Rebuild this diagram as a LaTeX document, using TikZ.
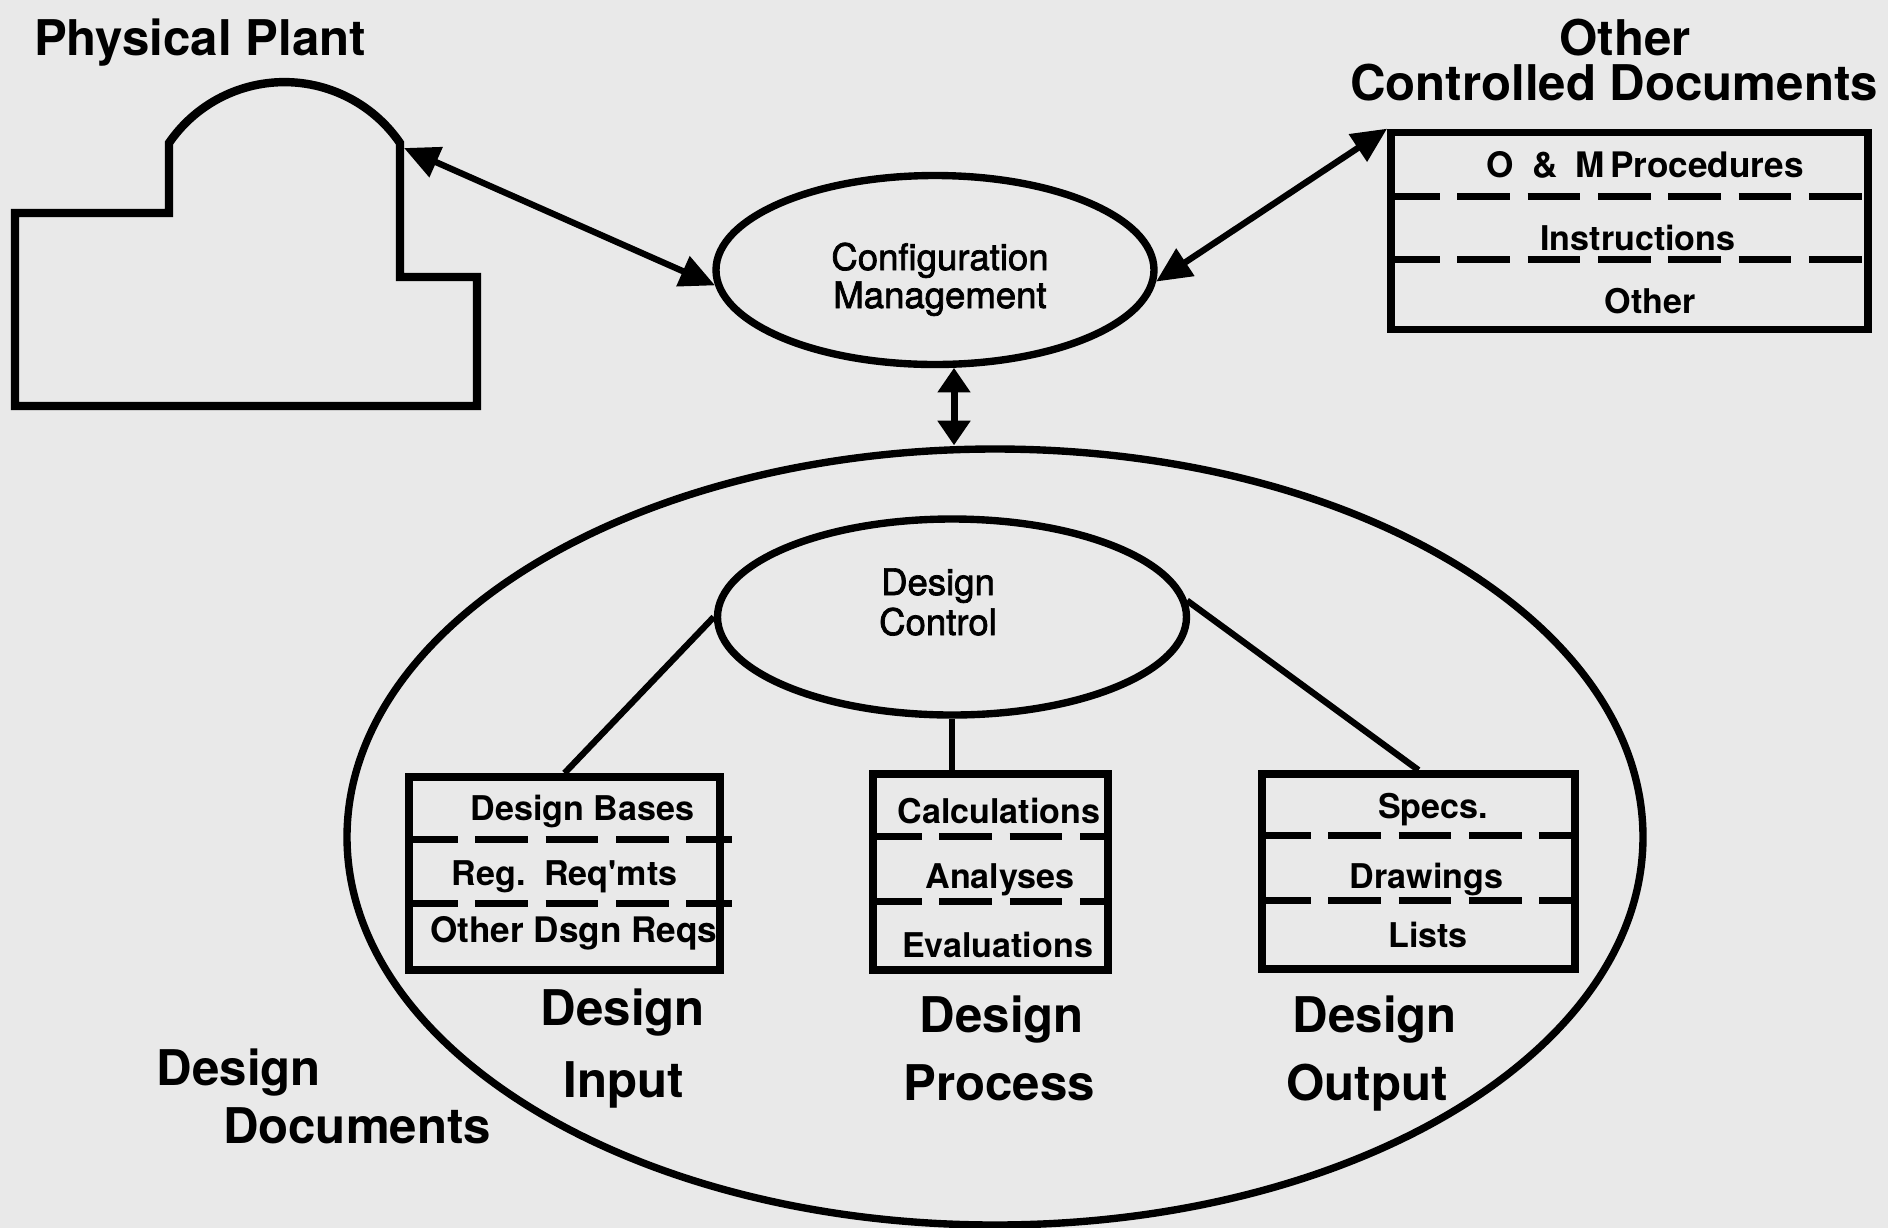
\documentclass[tikz,border=0pt]{standalone}
\usepackage{fontspec}
\setmainfont{TeX Gyre Heros}
\newfontfamily\medfont{TeX Gyre Heros}[FakeBold=2]
\newfontfamily\nolig{TeX Gyre Heros}[Ligatures=ResetAll]
\usetikzlibrary{shapes.geometric,arrows.meta,calc}
\definecolor{bg}{RGB}{233,233,233}
\begin{document}
\begin{tikzpicture}[x=0.1mm,y=-0.1mm,
  ell/.style={ellipse, draw, line width=2.1pt, inner sep=0pt},
  boxn/.style={rectangle, draw, line width=2.2pt, inner sep=0pt},
  sep/.style={line width=2pt, dash pattern=on 15pt off 5pt},
  conn/.style={line width=1.8pt},
  bigarr/.style={conn, {Triangle[length=10pt,width=9pt]}-{Triangle[length=10pt,width=9pt]}},
  title/.style={anchor=base, inner sep=0pt, font=\bfseries\fontsize{14}{16}\selectfont},
  boxtxt/.style={anchor=base, inner sep=0pt, font=\bfseries\fontsize{9.7}{11}\selectfont},
  elltxt/.style={anchor=base, inner sep=0pt, font=\medfont\fontsize{10.4}{12}\selectfont}
]
\fill[bg] (0,0) rectangle (1888,1228);
\useasboundingbox (0,0) rectangle (1888,1228);

% Physical plant
\draw[line width=2.4pt, line join=miter] (15,213) -- (15,406) -- (477,406) -- (477,277) -- (400,277) -- (400,143)
  arc[start angle=-34.4, end angle=-145.6, radius=140] -- (169,213) -- cycle;
\coordinate (plantR) at (404,148);
\node[title] (ppT) at (200,55) {Physical Plant};

% Configuration management
\node[ell, minimum width=43.8mm, minimum height=18.9mm] (cm) at (935,270) {};
\node[elltxt] (cmT1) at (940,270) {Configuration};
\node[elltxt] (cmT2) at (940,308) {Management};

% Other controlled documents
\node[title] (ocT1) at (1625,55) {Other};
\node[title] (ocT2) at (1614,100) {Controlled Documents};
\node[boxn, minimum width=47.7mm, minimum height=19.7mm] (ocd) at (1629.5,231) {};
\draw[sep] ($(ocd.north west)+(0,68)$) -- ($(ocd.north east)+(6,68)$);
\draw[sep] ($(ocd.north west)+(0,131)$) -- ($(ocd.north east)+(6,131)$);
\node[boxtxt, font=\bfseries\fontsize{10}{11}\selectfont] (ocA) at (1645,177) {O\hspace{0.55em}\&\hspace{0.5em}M\hspace{0.15em}Procedures};
\node[boxtxt] (ocB) at (1638,250) {Instructions};
\node[boxtxt] (ocC) at (1650,313) {Other};

% Design documents
\node[ell, minimum width=129.6mm, minimum height=77.6mm] (dd) at (995,837) {};
\node[ell, minimum width=46.9mm, minimum height=19.6mm] (dc) at (952,617) {};
\node[elltxt] (dcT1) at (938,595) {Design};
\node[elltxt] (dcT2) at (938,635) {Control};

% Boxes
\node[boxn, minimum width=31.1mm, minimum height=19.3mm] (din) at (564.5,873.5) {};
\draw[sep] ($(din.north west)+(0,66)$) -- ($(din.north east)+(8,66)$);
\draw[sep] ($(din.north west)+(0,130)$) -- ($(din.north east)+(8,130)$);
\node[boxtxt] (inA) at (582.5,820) {Design Bases};
\node[boxtxt] (inB) at (564.5,885) {Reg.\hspace{0.55em}Req{\nolig '}mts};
\node[boxtxt, font=\bfseries\fontsize{10}{11}\selectfont] (inC) at (574,942) {Other Dsgn Reqs};

\node[boxn, minimum width=23.5mm, minimum height=19.6mm] (dpr) at (990.5,872) {};
\draw[sep] ($(dpr.north west)+(0,66)$) -- ($(dpr.north east)+(0,66)$);
\draw[sep] ($(dpr.north west)+(0,131)$) -- ($(dpr.north east)+(0,131)$);
\node[boxtxt] (prA) at (999,823) {Calculations};
\node[boxtxt] (prB) at (1000,888) {Analyses};
\node[boxtxt] (prC) at (997.5,957) {Evaluations};

\node[boxn, minimum width=31.3mm, minimum height=19.5mm] (dout) at (1418.5,871.5) {};
\draw[sep] ($(dout.north west)+(0,65)$) -- ($(dout.north east)+(0,65)$);
\draw[sep] ($(dout.north west)+(0,130)$) -- ($(dout.north east)+(0,130)$);
\node[boxtxt] (ouA) at (1433,818) {Specs.};
\node[boxtxt] (ouB) at (1426.5,888) {Drawings};
\node[boxtxt] (ouC) at (1428,947) {Lists};

% Labels
\node[title] (inT1) at (623,1025) {Design};
\node[title] (inT2) at (624,1097) {Input};
\node[title] (prT1) at (1002,1032) {Design};
\node[title] (prT2) at (999,1100) {Process};
\node[title] (ouT1) at (1375,1032) {Design};
\node[title] (ouT2) at (1367,1100) {Output};
\node[title] (ddT1) at (239,1085) {Design};
\node[title] (ddT2) at (357,1143) {Documents};

% Connectors
\draw[bigarr] (plantR) -- (cm.184);
\draw[bigarr] (cm.357) -- (ocd.north west);
\draw[line width=2pt, {Triangle[length=7pt,width=9pt]}-{Triangle[length=7pt,width=9pt]}] (cm.-79) -- (cm.-79 |- dd.north);
\draw[conn] (dc.west) -- (din.north);
\draw[conn] (dc.south) -- (dc.south |- dpr.north);
\draw[conn] (dc.4) -- (dout.north);
\end{tikzpicture}
\end{document}
